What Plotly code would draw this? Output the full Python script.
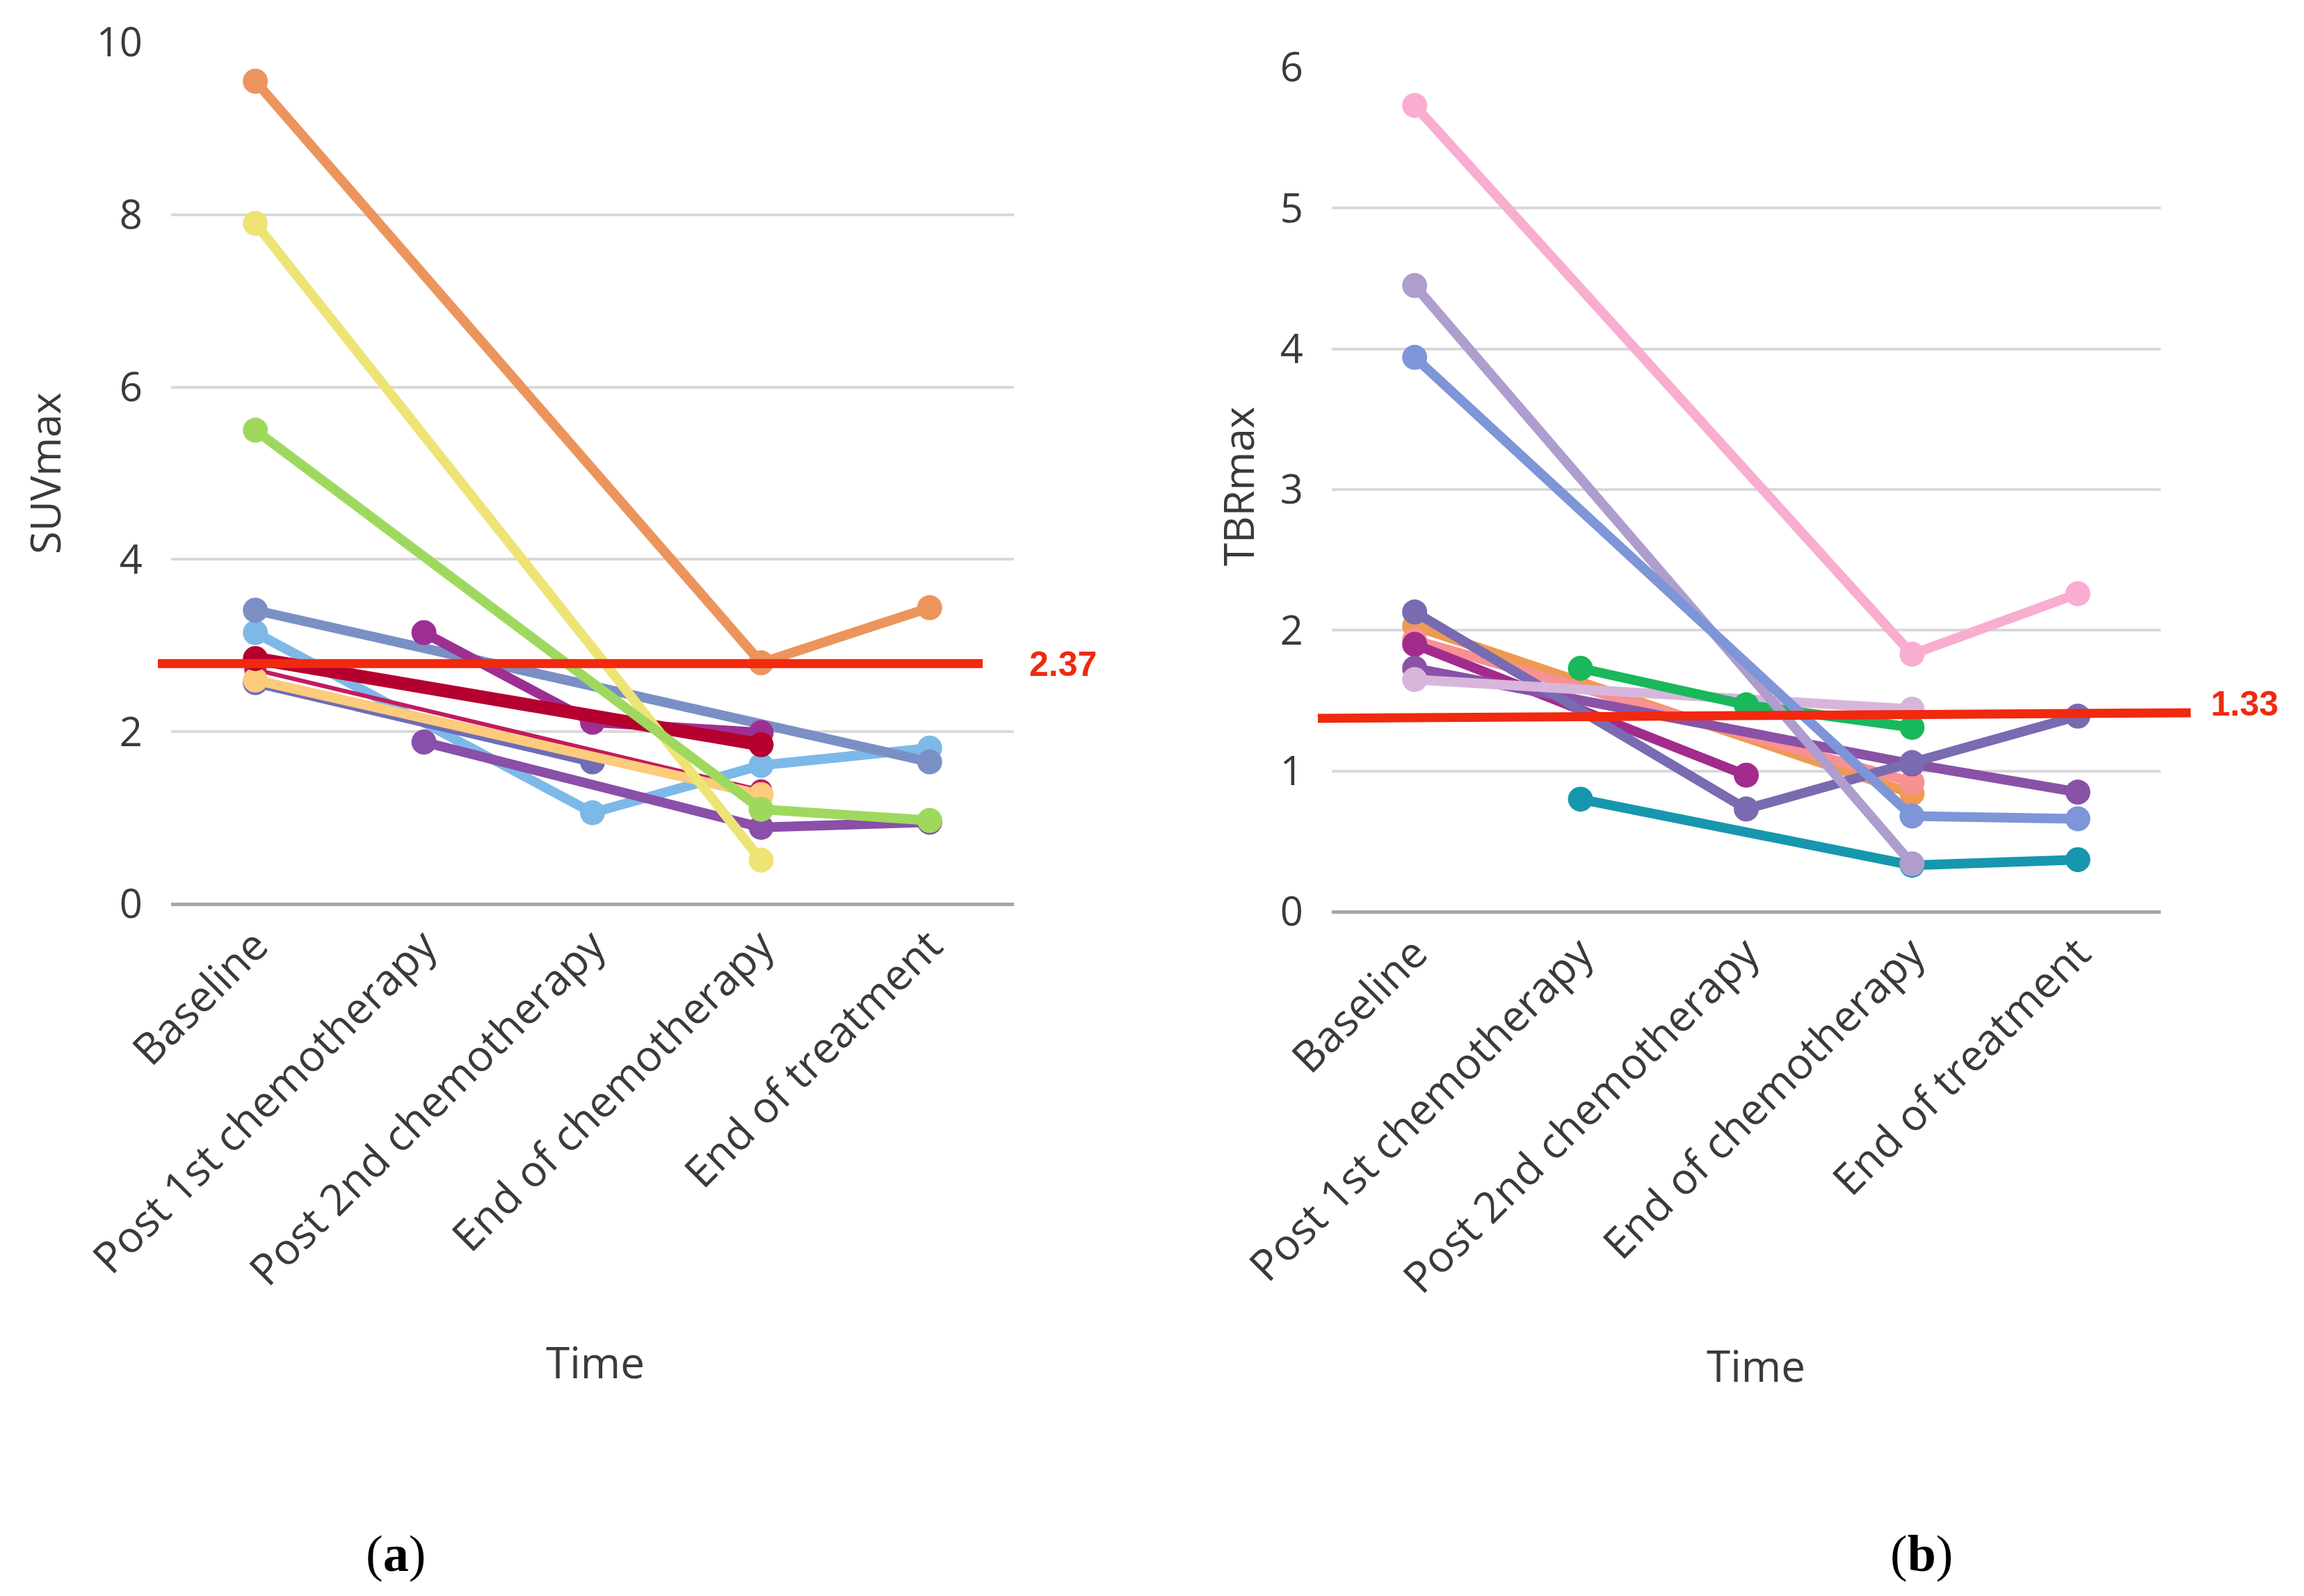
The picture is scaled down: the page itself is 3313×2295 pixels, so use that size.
import plotly.graph_objects as go
from plotly.subplots import make_subplots

# ---------------- data ----------------
time_points = ["Baseline", "Post 1st chemotherapy", "Post 2nd chemotherapy",
               "End of chemotherapy", "End of treatment"]

# Panel (a) SUVmax per patient (None = not measured)
suv_light_blue = [3.15, None, 1.06, 1.61, 1.81]
suv_slate      = [3.41, None, None, None, 1.65]
suv_indigo     = [2.57, None, 1.65, None, None]
suv_crimson    = [2.72, None, None, 1.32, None]
suv_peach      = [2.60, None, None, 1.27, None]
suv_purple     = [None, 1.88, None, 0.89, 0.95]
suv_magenta    = [None, 3.15, 2.11, 1.99, None]
suv_burgundy   = [2.85, None, None, 1.85, None]
suv_yellow     = [7.90, None, None, 0.51, None]
suv_green      = [5.50, None, None, 1.10, 0.97]
suv_orange     = [9.55, None, None, 2.80, 3.44]
suv_threshold_line = 2.79
suv_threshold_label = "2.37"

# Panel (b) TBRmax per patient
tbr_teal       = [None, 0.80, None, 0.33, 0.37]
tbr_orange     = [2.03, None, None, 0.84, None]
tbr_salmon     = [1.93, None, None, 0.92, None]
tbr_magenta    = [1.90, None, 0.97, None, None]
tbr_purple     = [1.73, None, None, 1.05, 0.85]
tbr_indigo     = [2.13, None, 0.73, 1.06, 1.39]
tbr_lilac      = [1.65, None, None, 1.44, None]
tbr_green      = [None, 1.73, 1.47, 1.31, None]
tbr_lavender   = [4.45, None, None, 0.34, None]
tbr_periwinkle = [3.94, None, None, 0.68, 0.66]
tbr_pink       = [5.73, None, None, 1.83, 2.26]
tbr_threshold_line = [1.374, 1.414]
tbr_threshold_label = "1.33"

suv_ticks = [0, 2, 4, 6, 8, 10]
tbr_ticks = [0, 1, 2, 3, 4, 5, 6]

# ---------------- styling ----------------
W, H = 3313, 2295
FONT = "Open Sans"
TXT = "#3A3A3A"
LW, MS = 14, 36

suv_series = [
    (suv_light_blue, "#7DB9E8", LW, MS),
    (suv_slate, "#7A90C4", LW, MS),
    (suv_indigo, "#6E6DB5", LW, MS),
    (suv_crimson, "#C41A5F", 6, 32),
    (suv_peach, "#FDCB7C", LW, MS),
    (suv_purple, "#8A4FA8", LW, MS),
    (suv_magenta, "#9E2F92", LW, MS),
    (suv_burgundy, "#B5002F", 19, MS),
    (suv_yellow, "#EDE475", LW, MS),
    (suv_green, "#9ED95E", LW, MS),
    (suv_orange, "#EB955C", LW, MS),
]
tbr_series = [
    (tbr_teal, "#1697AE", LW, MS),
    (tbr_orange, "#EE9A55", LW, MS),
    (tbr_salmon, "#F89193", LW, MS),
    (tbr_magenta, "#A22B8C", LW, MS),
    (tbr_purple, "#8A52A6", LW, MS),
    (tbr_indigo, "#7A6AB1", LW, MS),
    (tbr_lilac, "#D8B6DC", LW, MS),
    (tbr_green, "#19B85A", LW, MS),
    (tbr_lavender, "#AE9DCD", LW, MS),
    (tbr_periwinkle, "#7E95D8", LW, MS),
    (tbr_pink, "#F9ADD0", LW, MS),
]

fig = make_subplots(rows=1, cols=2)

for vals, col, lw, ms in suv_series:
    fig.add_trace(go.Scatter(x=time_points, y=vals, mode="lines+markers",
                             connectgaps=True, cliponaxis=False,
                             line=dict(color=col, width=lw),
                             marker=dict(color=col, size=ms),
                             showlegend=False), row=1, col=1)
for vals, col, lw, ms in tbr_series:
    fig.add_trace(go.Scatter(x=time_points, y=vals, mode="lines+markers",
                             connectgaps=True, cliponaxis=False,
                             line=dict(color=col, width=lw),
                             marker=dict(color=col, size=ms),
                             showlegend=False), row=1, col=2)

XA = [246 / W, 1458 / W]
XB = [1915 / W, 3107 / W]
YA = [1 - 1300 / H, 1 - 61 / H]
YB = [1 - 1311 / H, 1 - 97 / H]

xcommon = dict(type="category", range=[-0.5, 4.5], tickangle=-45,
               showgrid=False, showline=False, zeroline=False, ticks="",
               automargin=False,
               tickfont=dict(family=FONT, size=62, color=TXT),
               ticklabelstandoff=10)
ycommon = dict(showgrid=True, gridcolor="#D9D9D9", gridwidth=4,
               zeroline=True, zerolinecolor="#A6A6A6", zerolinewidth=5,
               showline=False, ticks="", ticklabelstandoff=40,
               automargin=False,
               tickfont=dict(family=FONT, size=58, color=TXT))

fig.update_layout(
    width=W, height=H, autosize=False,
    margin=dict(l=0, r=0, t=0, b=0, pad=0, autoexpand=False),
    paper_bgcolor="white", plot_bgcolor="white",
    xaxis=dict(domain=XA, **xcommon),
    xaxis2=dict(domain=XB, **xcommon),
    yaxis=dict(domain=YA, range=[0, 10], tickvals=suv_ticks, **ycommon),
    yaxis2=dict(domain=YB, range=[0, 6], tickvals=tbr_ticks, **ycommon),
)

RED = "#F0290F"
fig.add_shape(type="line", xref="paper", yref="y",
              x0=XA[0] - 19 / W, x1=XA[0] + 1167 / W,
              y0=suv_threshold_line, y1=suv_threshold_line,
              line=dict(color=RED, width=13), layer="above")
fig.add_shape(type="line", xref="paper", yref="y2",
              x0=XB[0] - 20 / W, x1=XB[0] + 1235 / W,
              y0=tbr_threshold_line[0], y1=tbr_threshold_line[1],
              line=dict(color=RED, width=13), layer="above")

ann = []
def A(text, x, y, size, family=FONT, color=TXT, angle=0, **kw):
    ann.append(dict(text=text, x=x, y=y, xref="paper", yref="paper",
                    showarrow=False, textangle=angle,
                    font=dict(family=family, size=size, color=color),
                    xanchor="center", yanchor="middle", **kw))

A("<b>" + suv_threshold_label + "</b>", 1528 / W, 1 - 955 / H, 50,
  family="Liberation Sans", color=RED)
A("<b>" + tbr_threshold_label + "</b>", 3227 / W, 1 - 1012 / H, 50,
  family="Liberation Sans", color=RED)
A("SUVmax", 64 / W, 1 - 680 / H, 60, angle=-90)
A("TBRmax", 1780 / W, 1 - 700 / H, 60, angle=-90)
A("Time", 856 / W, 1 - 1958 / H, 62)
A("Time", 2525 / W, 1 - 1963 / H, 62)
A("(<b>a</b>)", 569 / W, 1 - 2234 / H, 74, family="Liberation Serif", color="black")
A("(<b>b</b>)", 2763 / W, 1 - 2234 / H, 74, family="Liberation Serif", color="black")
fig.update_layout(annotations=ann)

fig.write_html("out.html", config={"displayModeBar": False},
               post_script="document.body.style.margin='0';document.body.style.overflow='hidden';")
